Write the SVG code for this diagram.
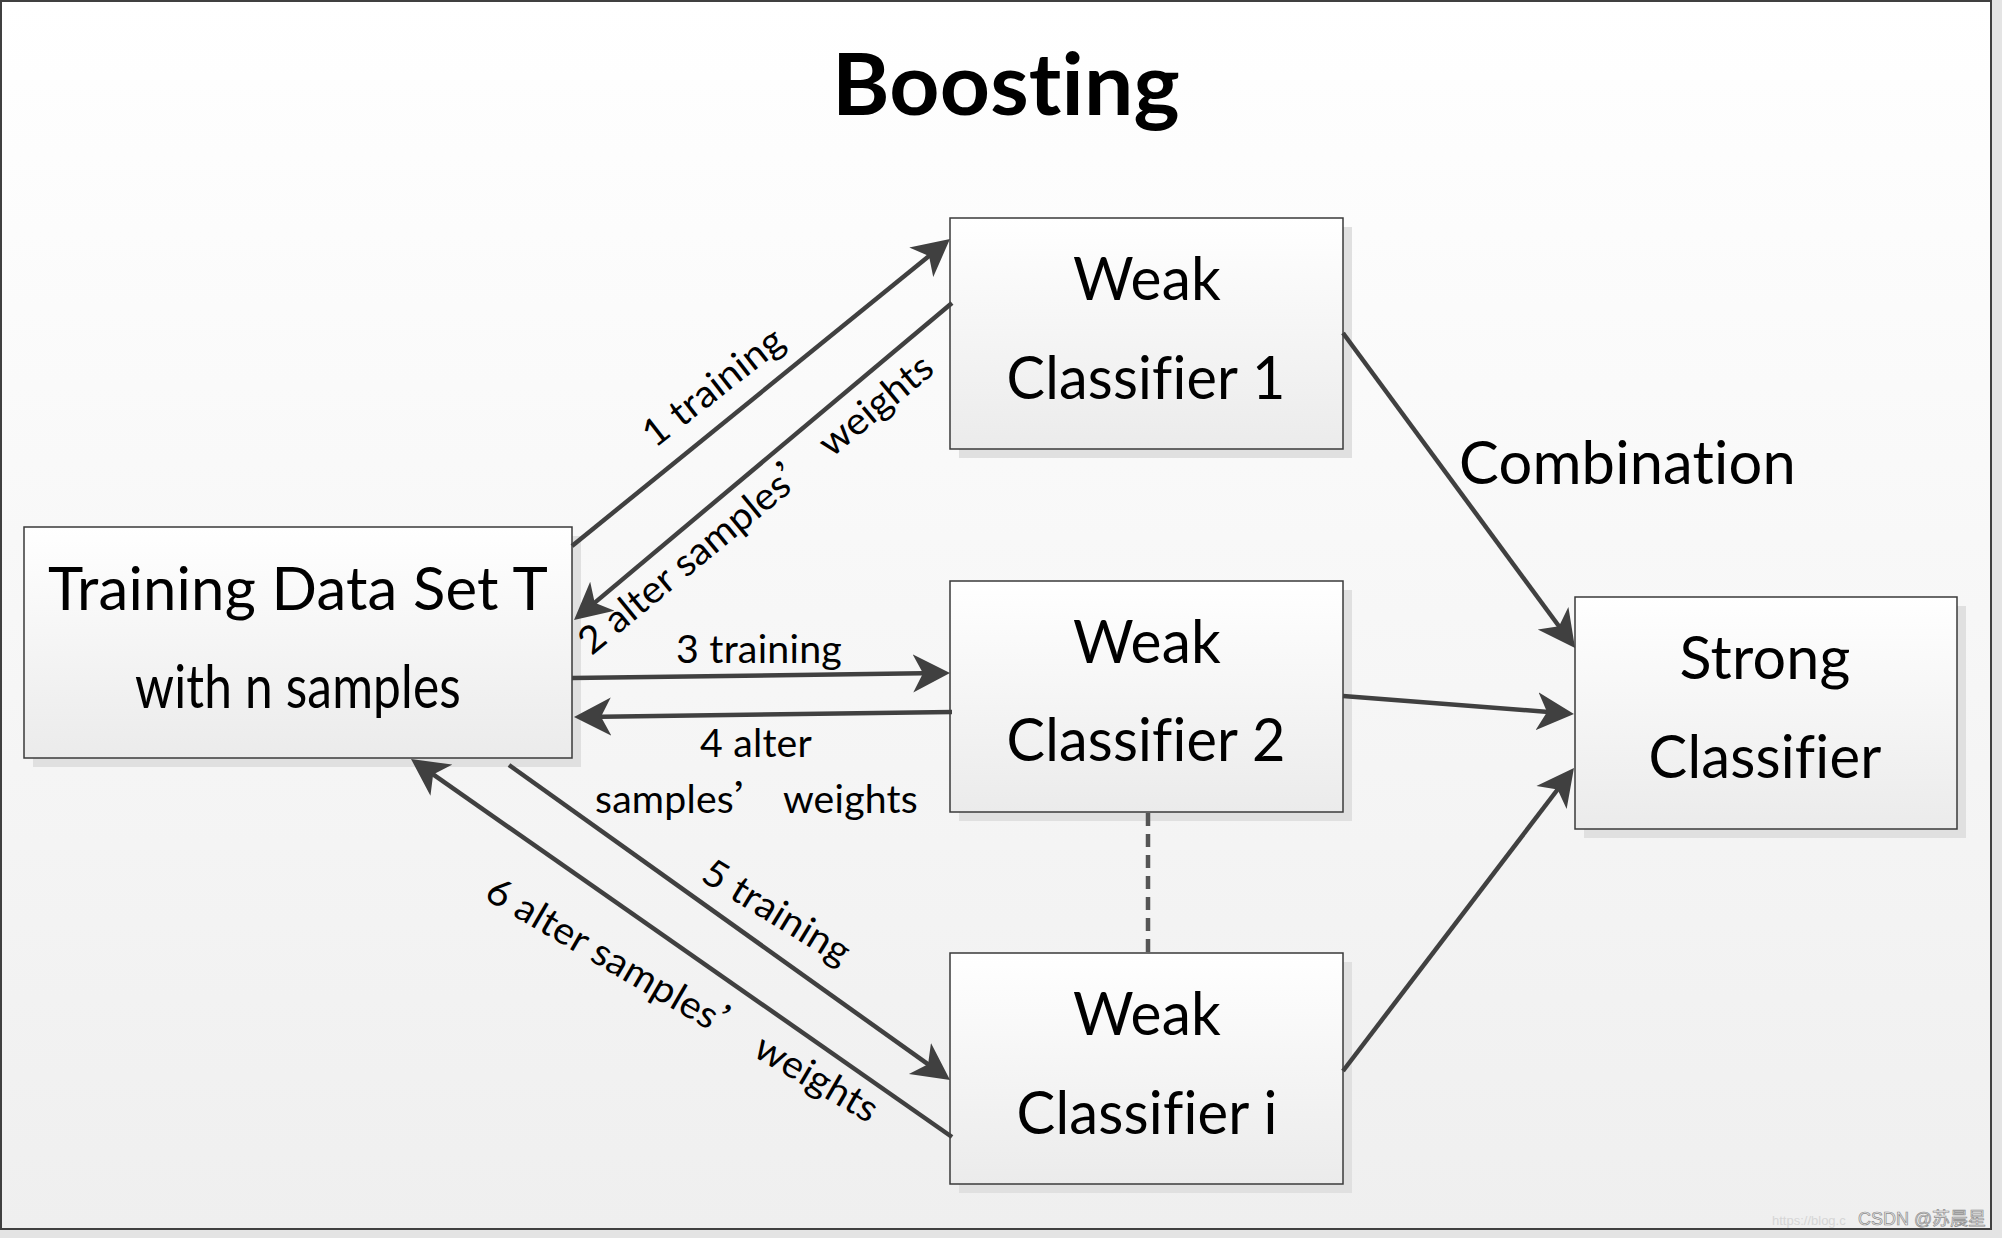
<svg xmlns="http://www.w3.org/2000/svg" width="2002" height="1238" viewBox="0 0 2002 1238">
<defs>
<linearGradient id="bg" x1="0" y1="0" x2="0" y2="1">
<stop offset="0" stop-color="#ffffff"/>
<stop offset="1" stop-color="#efefef"/>
</linearGradient>
<linearGradient id="boxfill" x1="0" y1="0" x2="0" y2="1">
<stop offset="0" stop-color="#ffffff"/>
<stop offset="1" stop-color="#ebebeb"/>
</linearGradient>
<marker id="arrow" viewBox="0 -20 38 40" markerUnits="userSpaceOnUse" markerWidth="38" markerHeight="40" refX="27" refY="0" orient="auto">
<path d="M37,0 L0,-19 L10,0 L0,19 Z" fill="#404040"/>
</marker>
<style>
text{font-variant-ligatures:none;font-feature-settings:"liga" 0,"dlig" 0,"clig" 0;letter-spacing:0.2px;}
.shadow{fill:#e0e0e0;}
.box{fill:url(#boxfill);stroke:#3a3a3a;stroke-width:1.5;}
.title{font-family:Lato,"Open Sans","Liberation Sans",sans-serif;font-weight:700;font-size:86px;fill:#000;text-anchor:middle;}
.nt{font-family:Lato,"Open Sans","Liberation Sans",sans-serif;font-size:60px;fill:#000;text-anchor:middle;}
.el{font-family:Lato,"Open Sans","Liberation Sans",sans-serif;font-size:38px;fill:#000;text-anchor:middle;}
.q{font-family:"Noto Sans CJK SC","Noto Sans CJK JP",sans-serif;}
.conn{stroke:#404040;stroke-width:4.5;fill:none;marker-end:url(#arrow);}
.dash{stroke:#555555;stroke-width:4.5;fill:none;stroke-dasharray:13 8;}
.wm{font-family:"Liberation Sans","Noto Sans CJK SC",sans-serif;letter-spacing:0;}
</style>
</defs>
<rect x="0" y="0" width="2002" height="1238" fill="#e4e4e4"/>
<rect x="1" y="1" width="1990" height="1228" fill="url(#bg)" stroke="#404040" stroke-width="2"/>
<text class="title" x="1006" y="115" textLength="348" lengthAdjust="spacingAndGlyphs">Boosting</text>

<g id="node-training">
<rect class="shadow" x="33" y="536" width="548" height="231"/>
<rect class="box" x="24" y="527" width="548" height="231"/>
<text class="nt" x="298" y="610" textLength="500" lengthAdjust="spacingAndGlyphs">Training Data Set T</text>
<text class="nt" x="298" y="708" textLength="326" lengthAdjust="spacingAndGlyphs">with n samples</text>
</g>

<g id="node-weak1">
<rect class="shadow" x="959" y="227" width="393" height="231"/>
<rect class="box" x="950" y="218" width="393" height="231"/>
<text class="nt" x="1147" y="300" textLength="148" lengthAdjust="spacingAndGlyphs">Weak</text>
<text class="nt" x="1146" y="399" textLength="279" lengthAdjust="spacingAndGlyphs">Classifier 1</text>
</g>

<g id="node-weak2">
<rect class="shadow" x="959" y="590" width="393" height="231"/>
<rect class="box" x="950" y="581" width="393" height="231"/>
<text class="nt" x="1147" y="663" textLength="148" lengthAdjust="spacingAndGlyphs">Weak</text>
<text class="nt" x="1146" y="761" textLength="279" lengthAdjust="spacingAndGlyphs">Classifier 2</text>
</g>

<g id="node-weaki">
<rect class="shadow" x="959" y="962" width="393" height="231"/>
<rect class="box" x="950" y="953" width="393" height="231"/>
<text class="nt" x="1147" y="1035" textLength="148" lengthAdjust="spacingAndGlyphs">Weak</text>
<text class="nt" x="1147" y="1134" textLength="261" lengthAdjust="spacingAndGlyphs">Classifier i</text>
</g>

<g id="node-strong">
<rect class="shadow" x="1584" y="606" width="382" height="232"/>
<rect class="box" x="1575" y="597" width="382" height="232"/>
<text class="nt" x="1765" y="679" textLength="171" lengthAdjust="spacingAndGlyphs">Strong</text>
<text class="nt" x="1765" y="778" textLength="233" lengthAdjust="spacingAndGlyphs">Classifier</text>
</g>

<g id="connectors">
<line class="conn" x1="572" y1="546" x2="942.2" y2="245.3"/>
<line class="conn" x1="952" y1="303" x2="581.7" y2="613.6"/>
<line class="conn" x1="572" y1="678" x2="940" y2="673.1"/>
<line class="conn" x1="952" y1="712" x2="584" y2="716.9"/>
<line class="conn" x1="509" y1="765" x2="941.9" y2="1074.2"/>
<line class="conn" x1="952" y1="1137" x2="419.2" y2="764.7"/>
<line class="conn" x1="1343" y1="333" x2="1569.1" y2="640"/>
<line class="conn" x1="1343" y1="696" x2="1564" y2="713.2"/>
<line class="conn" x1="1343" y1="1071" x2="1567.9" y2="776"/>
<line class="dash" x1="1148" y1="813" x2="1148" y2="952"/>
<g id="edge-labels">
<text class="el" transform="translate(721,397) rotate(-38)" textLength="168" lengthAdjust="spacingAndGlyphs">1 training</text>
<text class="el" transform="translate(764,514) rotate(-39.5)" textLength="447" lengthAdjust="spacingAndGlyphs">2 alter samples<tspan class="q">’</tspan> weights</text>
<text class="el" x="759" y="663" textLength="166" lengthAdjust="spacingAndGlyphs">3 training</text>
<text class="el" x="756" y="757" textLength="112" lengthAdjust="spacingAndGlyphs">4 alter</text>
<text class="el" x="756.5" y="813" textLength="323" lengthAdjust="spacingAndGlyphs">samples<tspan class="q">’</tspan> weights</text>
<text class="el" transform="translate(770,923) rotate(31.5)" textLength="166" lengthAdjust="spacingAndGlyphs">5 training</text>
<text class="el" transform="translate(676,1011) rotate(30.3)" textLength="447" lengthAdjust="spacingAndGlyphs">6 alter samples<tspan class="q">’</tspan> weights</text>
<text class="nt" x="1627.5" y="484" textLength="337" lengthAdjust="spacingAndGlyphs">Combination</text>
</g>
</g>

<g id="watermark">
<text class="wm" x="1772" y="1225" font-size="13" fill="#d6d6d6">https://blog.c</text>
<text class="wm" x="1858" y="1225" font-size="18" fill="#eeeeee" stroke="#8c8c8c" stroke-width="0.7" textLength="128" lengthAdjust="spacingAndGlyphs">CSDN @苏晨星</text>
</g>
</svg>
